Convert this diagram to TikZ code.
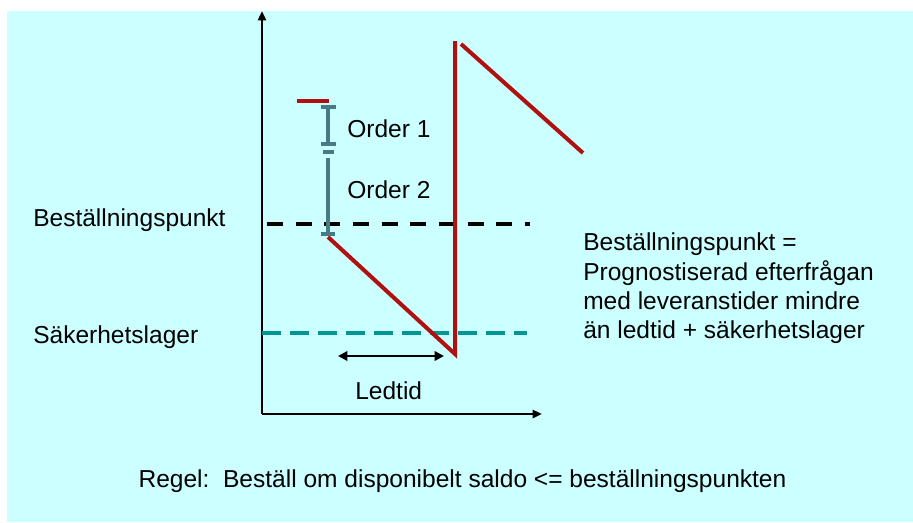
\documentclass[tikz,border=0pt]{standalone}
\usepackage{fontspec}
\setmainfont{Liberation Sans}
\usetikzlibrary{arrows.meta}
\definecolor{bgcyan}{RGB}{204,255,255}
\definecolor{linered}{RGB}{176,16,16}
\definecolor{barblue}{RGB}{70,122,135}
\definecolor{tealdash}{RGB}{0,150,150}
\begin{document}
\begin{tikzpicture}[x=0.75pt,y=-0.75pt,
  lbl/.style={font=\fontsize{18.4}{22.1}\selectfont, inner sep=0pt, anchor=base west, text=black},
  axisline/.style={line width=2.2pt, black},
  stock/.style={line width=3pt, linered},
  orderbar/.style={line width=3pt, barblue},
  bpline/.style={line width=3pt, black, dash pattern=on 12pt off 9.5pt},
  ssline/.style={line width=3pt, tealdash, dash pattern=on 14pt off 7pt},
  ltarrow/.style={line width=1.8pt, black, {Triangle[length=7pt,width=7pt]}-{Triangle[length=7pt,width=7pt]}}
]
\useasboundingbox (0,0) rectangle (913,522);
\fill[white] (0,0) rectangle (913,522);
\fill[bgcyan] (7,11) rectangle (913,522);

% axes
\coordinate (O) at (262,414);
\coordinate (ytop) at (262,11);
\coordinate (xend) at (542,414);
\draw[axisline,-{Triangle[length=7pt,width=6pt]}] (O) -- (ytop);
\draw[axisline,-{Triangle[length=7pt,width=6pt]}] (O) -- (xend);

% reference levels
\coordinate (bp1) at (267,224);
\coordinate (bp2) at (530,224);
\coordinate (ss1) at (262,333);
\coordinate (ss2) at (527,333);
\draw[bpline] (bp1) -- (bp2);
\draw[ssline] (ss1) -- (ss2);

% stock curve
\coordinate (r1) at (297,101);
\coordinate (r2) at (329,101);
\coordinate (d1) at (328,237);
\coordinate (d2) at (455,354);
\coordinate (d3) at (455,41);
\coordinate (e1) at (461,44);
\coordinate (e2) at (583,153);
\draw[stock] (r1) -- (r2);
\draw[stock, line join=miter] (d1) -- (d2) -- (d3);
\draw[stock] (e1) -- (e2);

% order bars
\coordinate (o1t) at (328,107);
\coordinate (o1b) at (328,144);
\coordinate (o2t) at (328,158);
\coordinate (o2b) at (328,234);
\draw[orderbar] (o1t) -- (o1b);
\draw[orderbar] (321,107) -- (336,107);
\draw[orderbar] (321,144) -- (336,144);
\draw[orderbar] (323,152) -- (334,152);
\draw[orderbar] (o2t) -- (o2b);
\draw[orderbar] (321,234) -- (335,234);

% lead time arrow
\coordinate (lt1) at (338,356);
\coordinate (lt2) at (444,356);
\draw[ltarrow] (lt1) -- (lt2);

% labels
\node[lbl] (order1) at (347,137) {Order 1};
\node[lbl] (order2) at (347,198) {Order 2};
\node[lbl] (ledtid) at (355,399) {Ledtid};
\node[lbl] (bplabel) at (33,226) {Beställningspunkt};
\node[lbl] (sslabel) at (33,343) {Säkerhetslager};
\node[lbl, anchor=north west, align=left] (def) at (583,232.5)
  {Beställningspunkt =\\Prognostiserad efterfrågan\\med leveranstider mindre\\än ledtid + säkerhetslager};
\node[lbl, anchor=base] (rule) at (462.5,487) {Regel:\ \ Beställ om disponibelt saldo <= beställningspunkten};
\end{tikzpicture}
\end{document}
